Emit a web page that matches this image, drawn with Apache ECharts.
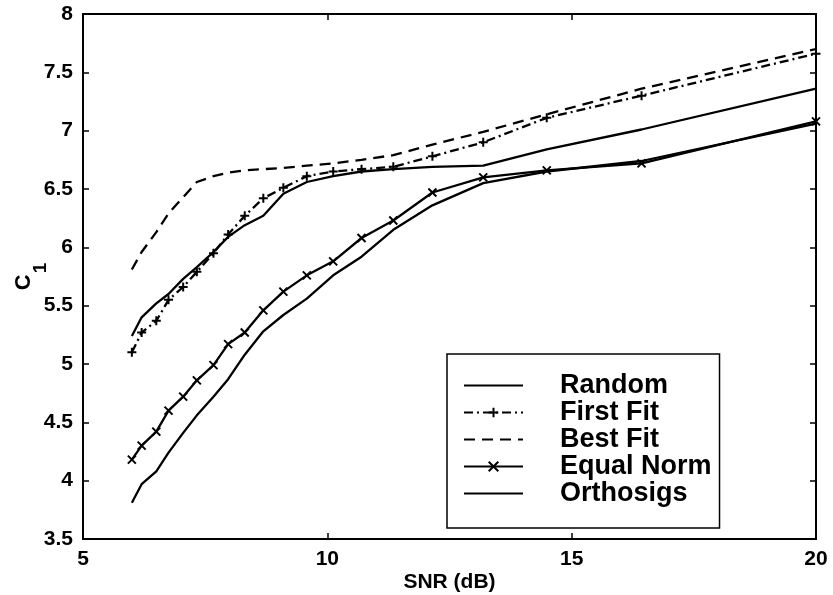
<!DOCTYPE html>
<html>
<head>
<meta charset="utf-8">
<script src="https://cdn.jsdelivr.net/npm/echarts@6/dist/echarts.min.js"></script>
<style>
html,body{margin:0;padding:0;background:#fff;}
#chart{width:833px;height:595px;}
</style>
</head>
<body>
<div id="chart"></div>
<script>
// SNR grid (dB)
var snr = [6.0, 6.2, 6.5, 6.75, 7.05, 7.33, 7.67, 7.97, 8.31, 8.69, 9.1, 9.58, 10.12, 10.7, 11.35, 12.15, 13.19, 14.49, 16.43, 20.0];
var randomVals = [5.24, 5.40, 5.52, 5.60, 5.73, 5.83, 5.96, 6.09, 6.19, 6.27, 6.46, 6.56, 6.61, 6.65, 6.67, 6.69, 6.70, 6.84, 7.01, 7.36];
var firstFit  = [5.10, 5.27, 5.37, 5.55, 5.66, 5.79, 5.95, 6.11, 6.27, 6.42, 6.51, 6.61, 6.65, 6.67, 6.69, 6.78, 6.90, 7.11, 7.30, 7.66];
var bestFit   = [5.81, 5.96, 6.13, 6.29, 6.43, 6.56, 6.61, 6.64, 6.66, 6.67, 6.68, 6.70, 6.72, 6.75, 6.79, 6.88, 6.99, 7.14, 7.36, 7.70];
var equalNorm = [4.18, 4.30, 4.42, 4.60, 4.72, 4.86, 4.99, 5.17, 5.27, 5.46, 5.62, 5.76, 5.88, 6.08, 6.23, 6.47, 6.60, 6.66, 6.72, 7.08];
var orthosigs = [3.81, 3.97, 4.08, 4.24, 4.41, 4.56, 4.72, 4.87, 5.08, 5.28, 5.42, 5.56, 5.76, 5.92, 6.15, 6.36, 6.55, 6.65, 6.74, 7.06];
var seriesNames = ['Random', 'First Fit', 'Best Fit', 'Equal Norm', 'Orthosigs'];
var xTicks = {min: 5, max: 20, interval: 5};
var yTicks = {min: 3.5, max: 8, interval: 0.5};

function pairs(ys){ return snr.map(function(x,i){ return [x, ys[i]]; }); }

var FONT = '"Liberation Sans", Arial, Helvetica, sans-serif';
var PLUS = 'path://M5,0 L5,10 M0,5 L10,5';
var CROSS = 'path://M0,0 L10,10 M10,0 L0,10';

function mkSeries(name, ys, dash, symbol, size){
  return {
    name: name, type: 'line', data: pairs(ys),
    xAxisIndex: 0, yAxisIndex: 0,
    symbol: symbol || 'none', symbolSize: size || 9,
    showSymbol: !!symbol, showAllSymbol: true,
    lineStyle: {color: '#000', width: 2.3, type: dash || 'solid'},
    itemStyle: {color: '#000', borderColor: '#000', borderWidth: 2},
    emphasis: {disabled: true},
    z: 3
  };
}

var axisCommonX = {
  type: 'value', min: xTicks.min, max: xTicks.max, interval: xTicks.interval,
  axisLine: {show: true, onZero: false, lineStyle: {color: '#000', width: 2}},
  axisTick: {show: true, inside: true, length: 6, lineStyle: {color: '#000', width: 1.5}},
  splitLine: {show: false}
};
var axisCommonY = {
  type: 'value', min: yTicks.min, max: yTicks.max, interval: yTicks.interval,
  axisLine: {show: true, onZero: false, lineStyle: {color: '#000', width: 2}},
  axisTick: {show: true, inside: true, length: 6, lineStyle: {color: '#000', width: 1.5}},
  splitLine: {show: false}
};

var hidden = {color: 'transparent', borderColor: 'transparent', borderWidth: 0, opacity: 0};

var chart = echarts.init(document.getElementById('chart'), null, {renderer: 'canvas'});
chart.setOption({
  animation: false,
  backgroundColor: '#fff',
  grid: {left: 83, right: 17, top: 14, bottom: 56, containLabel: false, outerBoundsMode: 'none'},
  xAxis: [
    Object.assign({}, axisCommonX, {
      position: 'bottom',
      name: 'SNR (dB)', nameLocation: 'middle', nameGap: 33, nameMoveOverlap: false,
      nameTextStyle: {fontFamily: FONT, fontSize: 21, fontWeight: 'bold', color: '#000'},
      axisLabel: {show: true, margin: 10, fontFamily: FONT, fontSize: 21, fontWeight: 'bold', color: '#000'}
    }),
    Object.assign({}, axisCommonX, {position: 'top', axisLabel: {show: false}})
  ],
  yAxis: [
    Object.assign({}, axisCommonY, {
      position: 'left',
      name: '{c|C}{s|1}', nameLocation: 'middle', nameGap: 33, nameRotate: 90, nameMoveOverlap: false,
      nameTextStyle: {fontFamily: FONT, fontSize: 22, fontWeight: 'bold', color: '#000',
        rich: {
          c: {fontFamily: FONT, fontSize: 22, fontWeight: 'bold', color: '#000', verticalAlign: 'top'},
          s: {fontFamily: FONT, fontSize: 19, fontWeight: 'bold', color: '#000', verticalAlign: 'bottom', padding: [18, 0, 0, 1]}
        }},
      axisLabel: {show: true, margin: 10, fontFamily: FONT, fontSize: 21, fontWeight: 'bold', color: '#000'}
    }),
    Object.assign({}, axisCommonY, {position: 'right', axisLabel: {show: false}})
  ],
  legend: {
    orient: 'vertical', left: 447, top: 354,
    padding: [18, 8, 21, 16],
    itemWidth: 59, itemHeight: 12, itemGap: 0,
    borderColor: '#000', borderWidth: 1.5, backgroundColor: '#fff',
    selectedMode: false,
    textStyle: {fontFamily: FONT, fontSize: 27, fontWeight: 'bold', color: '#000', lineHeight: 25.7, padding: [0, 0, 0, 32]},
    data: [
      {name: seriesNames[0], itemStyle: hidden},
      {name: seriesNames[1]},
      {name: seriesNames[2], itemStyle: hidden},
      {name: seriesNames[3]},
      {name: seriesNames[4], itemStyle: hidden}
    ]
  },
  series: [
    mkSeries(seriesNames[0], randomVals, 'solid'),
    mkSeries(seriesNames[1], firstFit, [9, 4, 2, 4], PLUS, 9),
    mkSeries(seriesNames[2], bestFit, [11, 7]),
    mkSeries(seriesNames[3], equalNorm, 'solid', CROSS, 8),
    mkSeries(seriesNames[4], orthosigs, 'solid')
  ]
});
</script>
</body>
</html>
